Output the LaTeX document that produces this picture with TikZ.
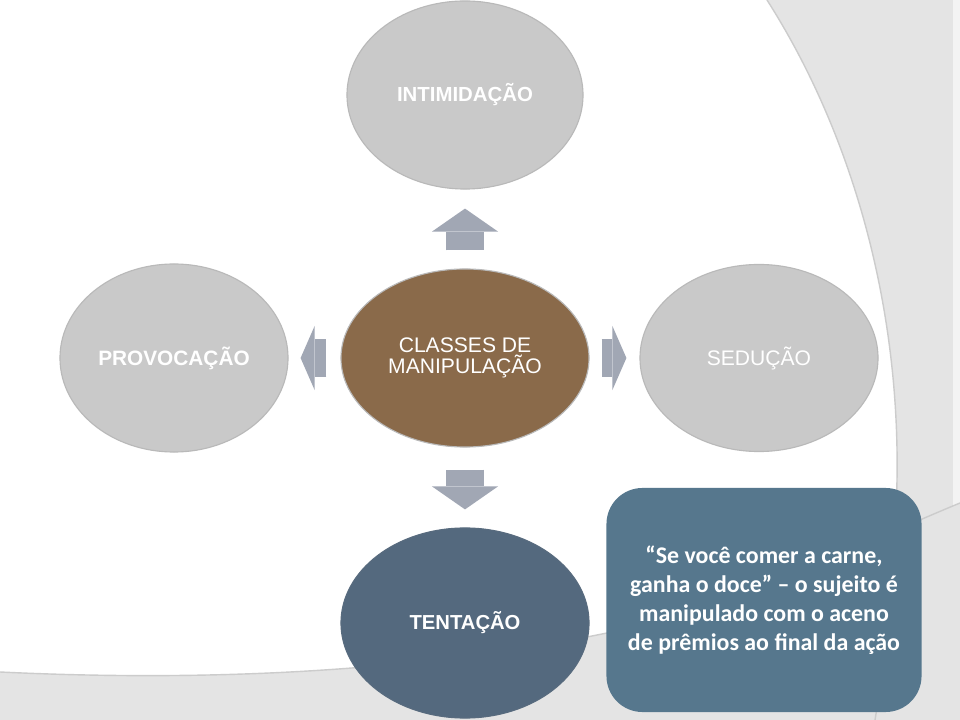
\documentclass[tikz,border=0pt]{standalone}
\usepackage{fontspec}
\setmainfont{Liberation Sans}
\newfontfamily\quotefont{Carlito}
\usepackage{tikz}
\usetikzlibrary{shapes.geometric, arrows.meta, positioning}
\definecolor{ellgray}{RGB}{201,201,201}
\definecolor{ellrim}{RGB}{185,185,185}
\definecolor{brownc}{RGB}{138,106,74}
\definecolor{slateb}{RGB}{84,105,126}
\definecolor{boxb}{RGB}{86,119,141}
\definecolor{arrgray}{RGB}{161,167,180}
\definecolor{bggray}{RGB}{228,228,228}
\definecolor{bgstrip}{RGB}{243,243,243}
\tikzstyle{ell}=[draw=ellrim, line width=0.8pt, shape=ellipse, inner sep=0pt, text=white, align=center]
\tikzstyle{grayell}=[ell, fill=ellgray]
\tikzstyle{bigarr}=[line width=0.95cm, draw=arrgray, -{Triangle[length=0.575cm, width=1.65cm, line width=0pt]}]
\tikzstyle{sidearr}=[line width=0.95cm, draw=arrgray, -{Triangle[length=0.35cm, width=1.6cm, line width=0pt]}]
\tikzset{>=stealth}

\begin{document}
\begin{tikzpicture}[x=0.025cm, y=-0.025cm]
\useasboundingbox (0,0) rectangle (960,720);
\fill[white] (0,0) rectangle (960,720);
\fill[bggray] (767,0) .. controls (850,130) and (900,300) .. (897,480) .. controls (895,580) and (885,660) .. (875,720) -- (953,720) -- (953,0) -- cycle;
\fill[bgstrip] (953,0) rectangle (960,720);
\fill[bggray] (0,672) .. controls (250,684) and (450,665) .. (607,633) .. controls (750,600) and (870,540) .. (960,503) -- (960,720) -- (0,720) -- cycle;
\draw[gray!40, line width=1pt] (767,0) .. controls (850,130) and (900,300) .. (897,480) .. controls (895,580) and (885,660) .. (875,720);
\draw[gray!40, line width=1pt] (0,672) .. controls (250,684) and (450,665) .. (607,633) .. controls (750,600) and (870,540) .. (960,503);

\node[ell, fill=brownc, minimum width=6.2cm, minimum height=4.45cm, font=\fontsize{15}{15}\selectfont] (M) at (465,358) {CLASSES DE\\MANIPULAÇÃO};
\node[grayell, minimum width=5.9cm, minimum height=4.7cm, font=\bfseries\fontsize{14.5}{17}\selectfont] (I) at (465,95) {INTIMIDAÇÃO};
\node[grayell, minimum width=5.7cm, minimum height=4.7cm, font=\bfseries\fontsize{14.8}{17}\selectfont] (P) at (174,358) {PROVOCAÇÃO};
\node[grayell, minimum width=5.95cm, minimum height=4.675cm, font=\fontsize{15}{17}\selectfont] (S) at (759,358) {SEDUÇÃO};
\node[ell, draw=slateb!90!gray, fill=slateb, minimum width=6.2cm, minimum height=4.75cm, font=\bfseries\fontsize{14.4}{17}\selectfont] (T) at (465,623) {TENTAÇÃO};

\draw[bigarr, shorten <=0.45cm, shorten >=0.475cm] (M) -- (I);
\draw[bigarr, shorten <=0.55cm, shorten >=0.45cm] (M) -- (T);
\draw[sidearr, shorten <=0.35cm, shorten >=0.3cm] (M) -- (P);
\draw[sidearr, shorten <=0.3cm, shorten >=0.325cm] (M) -- (S);

\node[fill=boxb, rounded corners=0.9cm, minimum width=7.875cm, minimum height=5.6cm, text=white, align=center, font=\quotefont\bfseries\fontsize{17}{20.5}\selectfont] (Q) at (764,600) {“Se você comer a carne,\\ganha o doce” – o sujeito é\\manipulado com o aceno\\de prêmios ao final da ação};
\end{tikzpicture}
\end{document}
